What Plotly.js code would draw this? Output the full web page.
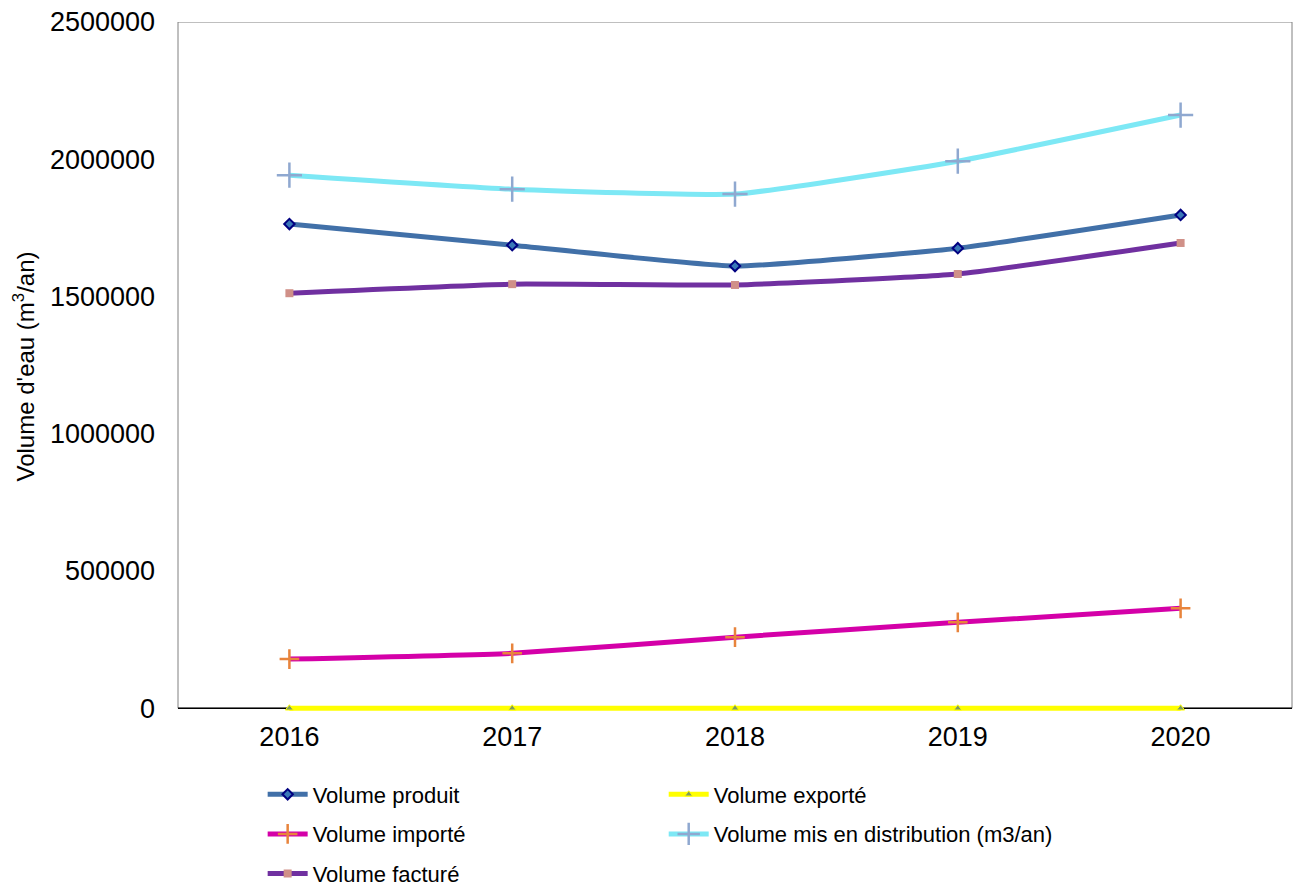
<!DOCTYPE html>
<html>
<head>
<meta charset="utf-8">
<script src="https://cdn.plot.ly/plotly-3.0.1.min.js"></script>
<style>html,body{margin:0;padding:0;background:#fff;}#chart{width:1302px;height:886px;}</style>
</head>
<body>
<div id="chart"></div>
<script>
const years = ['2016', '2017', '2018', '2019', '2020'];
const volumeProduit = [1764000, 1687000, 1611000, 1676000, 1797000];
const volumeExporte = [0, 0, 0, 0, 0];
const volumeImporte = [179000, 200000, 259000, 313000, 364000];
const volumeDistribution = [1942000, 1891000, 1873000, 1993000, 2161000];
const volumeFacture = [1512000, 1545000, 1542000, 1582000, 1695000];
const yTicks = [0, 500000, 1000000, 1500000, 2000000, 2500000];

const FONT = 'Liberation Sans, Arial, sans-serif';
const lineShape = {shape: 'spline', smoothing: 0.4};

const traces = [
  {name: 'Volume produit', x: years, y: volumeProduit, mode: 'lines+markers', legend: 'legend', legendgroup: 'a',
   line: Object.assign({color: '#4170A8', width: 5}, lineShape),
   marker: {symbol: 'diamond', size: 8, color: '#3A78B8', line: {color: '#000080', width: 2}}},
  {name: 'Volume exporté', x: years, y: volumeExporte, mode: 'lines+markers', legend: 'legend2', legendgroup: 'b',
   line: Object.assign({color: '#FFFF00', width: 5}, lineShape),
   marker: {symbol: 'triangle-up', size: 7, color: '#7C9A60', line: {color: '#FFFF00', width: 1}}},
  {name: 'Volume importé', x: years, y: volumeImporte, mode: 'lines+markers', legend: 'legend', legendgroup: 'c',
   line: Object.assign({color: '#D400A8', width: 5}, lineShape),
   marker: {symbol: 'cross-thin', size: 14, color: '#E8843C', line: {color: '#E8843C', width: 2.5}}},
  {name: 'Volume mis en distribution (m3/an)', x: years, y: volumeDistribution, mode: 'lines+markers', legend: 'legend2', legendgroup: 'd',
   line: Object.assign({color: '#7DE8F5', width: 5}, lineShape),
   marker: {symbol: 'cross-thin', size: 18, color: '#8FA8D0', line: {color: '#8FA8D0', width: 2.5}}},
  {name: 'Volume facturé', x: years, y: volumeFacture, mode: 'lines+markers', legend: 'legend', legendgroup: 'e',
   line: Object.assign({color: '#7030A0', width: 5}, lineShape),
   marker: {symbol: 'square', size: 8, color: '#D09088', line: {width: 0}}}
];

const legendCommon = {
  orientation: 'v', xanchor: 'left', yanchor: 'top', xref: 'paper', yref: 'container',
  bgcolor: 'rgba(0,0,0,0)',
  font: {family: FONT, size: 22, color: '#000'}, tracegroupgap: 8, itemwidth: 40, traceorder: 'grouped'
};

const layout = {
  width: 1302, height: 886,
  margin: {l: 178, r: 10, t: 22, b: 175},
  paper_bgcolor: '#fff', plot_bgcolor: '#fff',
  showlegend: true,
  font: {family: FONT, color: '#000'},
  xaxis: {
    type: 'category', range: [-0.5, 4.5],
    showgrid: false, zeroline: false, showline: false,
    ticks: '', ticklabelstandoff: 7,
    tickfont: {family: FONT, size: 27, color: '#000'}
  },
  yaxis: {
    range: [-10000, 2500000], tickvals: yTicks, ticktext: yTicks.map(String),
    showgrid: false, zeroline: false, showline: false,
    ticks: '', ticklabelstandoff: 22,
    tickfont: {family: FONT, size: 27, color: '#000'},
    title: {text: "Volume d'eau (m<sup>3</sup>/an)", font: {family: FONT, size: 24, color: '#000'}, standoff: 8}
  },
  shapes: [
    {type: 'rect', xref: 'paper', yref: 'y', x0: 0, x1: 1, y0: 0, y1: 2500000,
     line: {color: '#808080', width: 1}, fillcolor: 'rgba(0,0,0,0)', layer: 'below'},
    {type: 'line', xref: 'paper', yref: 'y', x0: 0, x1: 1, y0: 0, y1: 0,
     line: {color: '#000', width: 1.5}, layer: 'below'}
  ],
  legend: Object.assign({}, legendCommon, {x: 0.076, y: 0.127}),
  legend2: Object.assign({}, legendCommon, {x: 0.436, y: 0.127})
};

Plotly.newPlot('chart', traces, layout, {displayModeBar: false, staticPlot: true});
</script>
</body>
</html>
